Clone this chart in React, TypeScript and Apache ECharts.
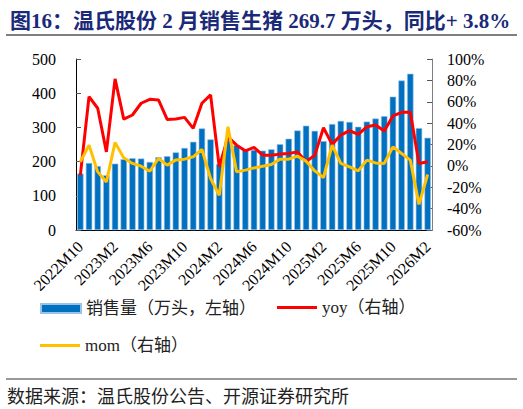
import { useEffect, useRef } from 'react'
import * as echarts from 'echarts'

const months = [
  '2022M10', '2022M11', '2022M12', '2023M1', '2023M2', '2023M3', '2023M4', '2023M5', '2023M6', '2023M7',
  '2023M8', '2023M9', '2023M10', '2023M11', '2023M12', '2024M1', '2024M2', '2024M3', '2024M4', '2024M5',
  '2024M6', '2024M7', '2024M8', '2024M9', '2024M10', '2024M11', '2024M12', '2025M1', '2025M2', '2025M3',
  '2025M4', '2025M5', '2025M6', '2025M7', '2025M8', '2025M9', '2025M10', '2025M11', '2025M12', '2026M1',
  '2026M2'
]

// 销售量（万头）
const sales = [
  165, 196, 187, 160, 194, 207, 210, 209, 199, 213,
  216, 227, 240, 258, 297, 265, 193, 263, 248, 236,
  234, 232, 236, 251, 267, 291, 305, 290, 260, 310,
  319, 316, 302, 317, 326, 333, 390, 437, 457, 298,
  269.7
]

// yoy (%)
const yoy = [
  -8.7, 64.8, 53.9, 13.1, 81.4, 43.8, 47.6, 58.6, 62.3, 61.7,
  43.5, 43.8, 45.4, 35.1, 58.6, 66.4, -0.9, 27.2, 19.4, 14.1,
  17.3, 10, 10, 11, 11.6, 13.1, 4, 10, 35.7, 20.1,
  28.8, 32.9, 29.5, 36.6, 38.2, 32.6, 46.7, 50.1, 50.1, 2.3,
  3.8
]

// mom (%)
const mom = [
  3.8, 19.4, -5.6, -15, 22, 7.5, 2.3, -0.3, -5, 6.9,
  0.7, 5.6, 6.3, 8.5, 15.4, -11.8, -27.5, 36.6, -5.6, -4,
  -1.9, -0.3, 1.3, 6.3, 6.3, 9.1, 4.4, -4.7, -10.9, 19.4,
  2.3, -0.9, -4.7, 5.4, 2.8, 2.3, 17.8, 11.6, 5.4, -36,
  -8.1
]

const serif = '"Liberation Serif", "Noto Sans CJK SC", serif'

const legendText = { fontFamily: serif, fontSize: 17, color: '#222' }

export default function App() {
  const chartRef = useRef<HTMLDivElement>(null)

  useEffect(() => {
    if (!chartRef.current) return
    const chart = echarts.init(chartRef.current, null, { renderer: 'svg' })

    const option = {
      animation: false,
      backgroundColor: '#fff',
      textStyle: { fontFamily: serif },
      title: {
        text: '图16：温氏股份 2 月销售生猪 269.7 万头，同比+ 3.8%',
        left: 5,
        top: 5,
        textStyle: {
          fontFamily: serif,
          fontSize: 21,
          fontWeight: 'bold',
          color: '#1b2a78'
        }
      },
      graphic: [
        { type: 'line', shape: { x1: 6, y1: 35, x2: 517, y2: 35 }, style: { stroke: '#555', lineWidth: 1.5 } },
        { type: 'line', shape: { x1: 6, y1: 379, x2: 517, y2: 379 }, style: { stroke: '#777', lineWidth: 1.5 } },
        {
          type: 'text',
          left: 7,
          top: 386,
          style: {
            text: '数据来源：温氏股份公告、开源证券研究所',
            font: '18px "Noto Sans CJK SC", serif',
            fill: '#222'
          }
        }
      ],
      legend: [
        {
          left: 35,
          top: 295,
          itemWidth: 40,
          itemHeight: 9,
          icon: 'rect',
          data: ['销售量（万头，左轴）'],
          textStyle: legendText
        },
        {
          left: 272,
          top: 294,
          itemWidth: 40,
          itemHeight: 3,
          icon: 'rect',
          data: ['yoy（右轴）'],
          textStyle: legendText
        },
        {
          left: 35,
          top: 332,
          itemWidth: 40,
          itemHeight: 3,
          icon: 'rect',
          data: ['mom（右轴）'],
          textStyle: legendText
        }
      ],
      grid: {
        left: 76,
        right: 91,
        top: 59,
        bottom: 179
      },
      xAxis: {
        type: 'category',
        data: months,
        axisLine: { lineStyle: { color: '#000', width: 1 } },
        axisTick: { inside: true, interval: 3, length: 5, lineStyle: { color: '#333' } },
        axisLabel: {
          interval: 3,
          rotate: 45,
          fontSize: 16,
          color: '#000',
          fontFamily: serif,
          margin: 14
        }
      },
      yAxis: [
        {
          type: 'value',
          min: 0,
          max: 500,
          interval: 100,
          splitLine: { show: false },
          axisLine: { show: true, lineStyle: { color: '#000' } },
          axisTick: { show: true, inside: true, length: 5, lineStyle: { color: '#555' } },
          axisLabel: { fontSize: 16, color: '#000', fontFamily: serif, margin: 20 }
        },
        {
          type: 'value',
          min: -60,
          max: 100,
          interval: 20,
          splitLine: { show: false },
          axisLine: { show: true, lineStyle: { color: '#808080' } },
          axisTick: { show: true, inside: true, length: 5, lineStyle: { color: '#555' } },
          axisLabel: { fontSize: 16, color: '#000', fontFamily: serif, margin: 15, formatter: '{value}%' }
        }
      ],
      series: [
        {
          name: '销售量（万头，左轴）',
          type: 'bar',
          data: sales,
          barWidth: '74%',
          itemStyle: { color: '#0070c0', borderColor: '#9cc2e5', borderWidth: 0.6 }
        },
        {
          name: 'yoy（右轴）',
          type: 'line',
          yAxisIndex: 1,
          data: yoy,
          symbol: 'none',
          lineStyle: { color: '#ff0000', width: 3 },
          itemStyle: { color: '#ff0000' }
        },
        {
          name: 'mom（右轴）',
          type: 'line',
          yAxisIndex: 1,
          data: mom,
          symbol: 'none',
          lineStyle: { color: '#ffc000', width: 3 },
          itemStyle: { color: '#ffc000' }
        }
      ]
    }

    chart.setOption(option)

    return () => {
      chart.dispose()
    }
  }, [])

  return (
    <div
      ref={chartRef}
      style={{ position: 'fixed', left: 0, top: 0, width: '523px', height: '409px' }}
    />
  )
}
